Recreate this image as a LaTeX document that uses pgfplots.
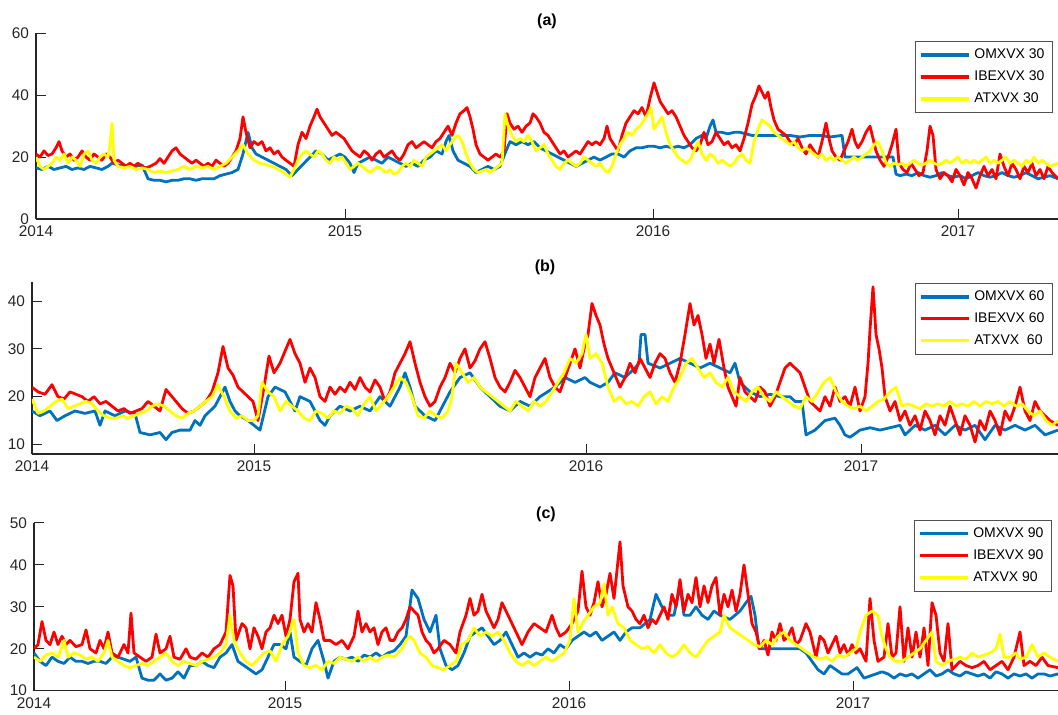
\documentclass[border=0pt]{standalone}
\usepackage{fontspec}
\setmainfont{Liberation Sans}
\usepackage{pgfplots}
\pgfplotsset{compat=1.18}
\definecolor{axgray}{rgb}{0.15,0.15,0.15}
\definecolor{mblue}{rgb}{0,0.447,0.741}
\definecolor{myel}{rgb}{1,1,0}
\definecolor{mred}{rgb}{1,0,0}
\pgfplotsset{
  panel/.style={
    scale only axis, clip=true,
    axis lines*=left,
    axis line style={-, draw=axgray, line width=0.6pt},
    tick align=inside,
    tick style={draw=axgray, line width=0.5pt},
    major tick length=5pt,
    ticklabel style={font=\fontsize{7.7}{9}\selectfont, text=axgray},
    /pgf/number format/assume math mode=true,
    every axis title/.style={at={(0.5,1)}, anchor=center, font=\bfseries\fontsize{8}{9}\selectfont},
    legend style={draw=axgray!80, line width=0.5pt, font=\fontsize{7}{8}\selectfont,
      anchor=north east, cells={anchor=west}, row sep=0.6pt, inner xsep=2pt, inner ysep=1.5pt},
    legend image code/.code={\draw[##1,line width=1.6pt] (0pt,0pt) -- (24pt,0pt);},
    every axis plot/.append style={line width=1.4pt, line join=round},
    xticklabels={2014,2015,2016,2017},
  },
  omx/.style={color=mblue},
  ibex/.style={color=mred},
  atx/.style={color=myel},
}
\begin{document}
\begin{tikzpicture}
\useasboundingbox (0,0) rectangle (529pt,357.5pt);
% ---------------- panel (a)
\begin{axis}[panel, at={(18pt,248pt)}, anchor=south west,
  width=511pt, height=92.85pt, xmin=36, xmax=1058, ymin=0, ymax=60,
  ytick={0,20,40,60}, xtick={36,345,653,958},
  title={(a)}, title style={at={(0.5,1.065)}},
  legend style={at={(0.995,0.958)}}]
\addplot[omx] coordinates {(36,16.5)(42,16)(48,17)(54,16)(60,16.5)(66,17)(72,16)(78,16.5)(84,16)(90,17)(96,16.5)(102,16)(108,17)(112,18)(118,17.5)(124,17)(130,17.5)(136,17)(142,17.5)(148,13)(154,12.5)(160,12.5)(166,12)(172,12.5)(178,12.5)(184,13)(190,13)(196,12.5)(202,13)(208,13)(214,13)(220,14)(226,14.5)(232,15)(238,16)(243,21)(248,28)(252,23)(256,21)(262,20)(268,19)(274,18)(280,17)(286,16)(292,14)(298,16)(304,18)(310,20)(316,22)(322,21)(328,19)(334,20)(340,21)(345,20)(350,18)(354,15)(358,18)(364,19)(370,20)(376,19)(382,18)(388,20)(394,19)(400,18)(406,17)(412,18)(418,17)(424,19)(430,20)(436,22)(442,21)(446,25)(449,27)(453,22)(458,19)(464,18)(470,17)(476,15)(482,16)(488,17)(494,16)(500,17)(506,22)(510,25)(516,24)(522,25)(528,24)(534,25)(540,23)(546,22)(552,21)(558,20)(564,19)(570,18)(576,17)(582,18)(588,19)(594,20)(600,19)(606,20)(612,21)(618,21)(624,20)(630,22)(636,23)(642,23)(648,23.5)(654,23.5)(660,23)(666,23.5)(672,23)(678,23.5)(684,23)(690,24)(696,26)(702,27)(706,26)(710,30)(713,32)(716,28)(722,28)(728,27.5)(734,28)(740,28)(746,27.5)(752,27)(760,27)(770,27)(780,27)(790,27)(800,26.5)(810,27)(820,27)(830,26.5)(842,27)(845,20)(855,20)(865,20)(875,20)(885,20)(893,20)(896,14.5)(900,14)(906,14.5)(912,14)(918,15)(924,14)(930,13.5)(936,14)(942,15)(948,14)(954,13.5)(960,14)(966,13)(972,14)(978,15)(984,14)(990,13.5)(996,14)(1002,15)(1008,14)(1014,13.5)(1020,14)(1026,15)(1032,14)(1038,13)(1044,13.5)(1050,14)(1058,13)};
\addlegendentry{OMXVX 30}
\addplot[ibex] coordinates {(36,21)(40,20)(44,22)(48,20.5)(52,21)(56,23)(59,25)(62,22)(66,20)(70,21)(74,19)(78,20)(82,22)(86,20)(90,19)(94,21)(98,20)(102,19)(106,21)(110,20)(114,18)(118,19)(122,18)(126,17)(130,18)(134,17)(138,18)(142,17)(146,16.5)(150,17)(156,18)(160,19.5)(164,18)(168,20)(172,22)(176,23)(180,21)(184,20)(188,19)(192,18)(196,19)(200,18)(204,17)(208,18)(212,17)(216,19)(220,18)(224,17)(228,18)(232,20)(236,22)(240,26)(243,33)(246,28)(250,23)(254,25)(258,24)(262,25)(266,22)(270,23)(274,21)(278,22)(282,20)(286,19)(290,18)(294,17)(298,24)(302,28)(306,26)(310,30)(314,33)(317,35.5)(320,33)(324,31)(328,29)(332,27)(336,28)(340,27)(344,26)(348,24)(352,22)(356,21)(360,20)(364,22)(368,21)(372,19)(376,21)(380,22)(384,20)(388,21)(392,22)(396,20)(400,19)(404,21)(408,24)(412,25)(416,23)(420,24)(424,25)(428,24)(432,23)(436,25)(440,26)(444,28)(448,30)(452,27)(456,31)(460,34)(464,35)(467,36)(470,33)(473,29)(476,24)(480,21)(484,20)(488,19)(492,20)(496,21)(500,20)(504,22)(507,34)(510,31)(514,29)(518,30)(522,28)(526,30)(530,31)(533,34)(536,33)(540,31)(544,28)(548,27)(552,25)(556,23)(560,21)(564,22)(568,20)(572,21)(576,22)(580,21)(584,23)(588,25)(592,24)(596,25)(600,24)(604,26)(607,30)(610,26)(614,24)(618,22)(622,27)(626,31)(630,33)(634,35)(638,34)(642,36)(646,33)(650,39)(654,44)(657,41)(660,38)(664,36)(668,34)(672,35)(676,33)(680,30)(684,27)(688,25)(692,23)(696,22)(700,24)(704,28)(708,24)(712,25)(716,28)(720,26)(724,24)(728,25)(732,23)(736,24)(740,22)(744,26)(748,31)(752,37)(756,40)(759,43)(762,41)(765,39)(768,41)(771,36)(774,32)(778,29)(782,28)(786,27)(790,25)(794,24)(798,26)(802,23)(806,21)(810,24)(814,22)(818,20)(822,25)(826,31)(829,26)(832,22)(836,20)(840,19)(844,22)(848,25)(852,29)(855,25)(858,23)(862,25)(866,28)(870,30)(873,26)(876,22)(880,19)(884,17)(888,20)(892,24)(896,29)(899,18)(903,16)(907,15)(911,18)(915,16)(919,14)(923,15)(927,22)(930,30)(933,27)(936,16)(940,13)(944,15)(948,14)(952,12)(956,16)(960,14)(964,11)(968,15)(972,13)(976,10)(980,14)(984,17)(988,14)(992,16)(996,13)(1000,21)(1004,17)(1008,14)(1012,18)(1016,16)(1020,13)(1024,17)(1028,15)(1032,18)(1036,14)(1040,16)(1044,13)(1048,17)(1052,15)(1058,13)};
\addlegendentry{IBEXVX 30}
\addplot[atx] coordinates {(36,20)(40,17)(44,16)(48,17)(52,18)(56,20)(60,19)(64,21)(68,18)(72,20)(76,19)(80,17)(84,21)(88,22)(92,19)(96,18)(100,20)(104,21)(108,20)(110,24)(112,31)(114,19)(118,17)(124,16.5)(130,17)(136,16)(142,16.5)(148,16)(154,15)(160,15.5)(166,15)(172,15.5)(178,16)(184,17)(190,16)(196,17)(202,16.5)(208,17)(214,16)(220,17)(226,18)(232,20)(238,22)(243,24)(248,21)(254,19)(260,18)(266,17.5)(272,17)(278,16)(284,15)(290,13.5)(294,16)(298,19)(302,21)(306,22)(310,21)(314,20)(318,22)(322,21)(326,19)(330,18)(334,20)(338,19)(342,20)(346,18)(350,16)(354,17)(358,18)(362,17)(366,16)(370,15)(374,16)(378,17)(382,16)(386,15)(390,16)(394,14.5)(398,15)(402,17)(406,18)(410,17)(414,19)(418,18)(422,17)(426,20)(430,21)(434,22)(438,23)(442,24)(446,22)(450,24)(454,26)(458,27)(462,25)(466,21)(470,18)(474,16)(478,15)(482,15.5)(486,16)(490,15)(494,16)(498,17)(502,18)(505,34)(508,30)(512,27)(516,25)(520,26)(524,25)(528,27)(532,25)(536,22)(540,23)(544,24)(548,21)(552,19)(556,17)(560,16)(564,18)(568,19)(572,18)(576,17)(580,18)(584,20)(588,19)(592,18)(596,17)(600,18)(604,16)(608,15)(612,17)(616,21)(620,24)(624,26)(628,28)(632,27)(636,29)(640,30)(644,32)(648,34)(651,36)(654,29)(658,31)(662,33)(666,28)(670,24)(674,22)(678,20)(682,19)(686,18)(690,19)(694,22)(698,25)(702,21)(706,19)(710,21)(714,20)(718,18)(722,19)(726,18)(730,17)(734,18)(738,20)(742,21)(746,19)(750,18)(754,25)(758,29)(762,32)(766,31)(770,30)(774,28)(778,27)(782,26)(786,25)(790,24)(794,25)(798,23)(802,22)(806,23)(810,22)(814,21)(818,20)(822,21)(826,19)(830,20)(834,19)(838,20)(842,19)(846,18)(850,19)(854,20)(858,19)(862,20)(866,21)(870,22)(874,24)(878,25)(882,22)(886,18)(890,17)(894,18)(898,17.5)(902,18)(906,17)(910,18)(914,19)(918,18)(922,17.5)(926,18)(930,19)(934,18)(938,17.5)(942,18)(946,19)(950,18)(954,19)(958,20)(962,18)(966,19)(970,18)(974,19)(978,18)(982,19)(986,20)(990,18)(994,19)(998,18)(1002,19)(1006,20)(1010,18)(1014,19)(1018,18)(1022,17)(1026,19)(1030,18)(1034,20)(1038,18)(1042,19)(1046,18)(1050,17)(1058,18)};
\addlegendentry{ATXVX 30}
\end{axis}
% ---------------- panel (b)
\begin{axis}[panel, at={(16pt,130.5pt)}, anchor=south west,
  width=513pt, height=86pt, xmin=32, xmax=1058, ymin=8, ymax=44,
  ytick={10,20,30,40}, xtick={32,254,586,861},
  title={(b)}, title style={at={(0.5,1.087)}},
  legend style={at={(0.995,0.994)}}]
\addplot[omx] coordinates {(32,17)(40,16)(50,17)(57,15)(65,16)(75,17)(85,16.5)(95,17)(100,14)(105,17)(115,16)(125,17)(135,16.5)(140,12.5)(150,12)(160,12.5)(166,11)(172,12.5)(180,13)(190,13)(195,15)(200,14)(205,16)(210,17)(215,18)(225,22)(230,19)(235,17)(240,16)(248,15)(254,14)(260,13)(268,20)(275,22)(285,21)(290,19)(295,17)(300,20)(310,19)(320,15)(325,14)(330,16)(340,18)(350,17)(360,18)(370,17)(380,20)(390,18)(400,22)(405,25)(410,22)(415,18)(425,16)(435,15)(440,17)(450,21)(460,24)(470,25)(480,22)(490,20)(500,18)(510,17)(520,19)(530,18)(540,20)(555,22)(565,24)(575,23)(585,24)(590,23)(600,22)(608,23)(615,25)(625,24)(635,26)(639,27)(641,33)(645,33)(648,27)(660,26)(670,27)(680,28)(690,27)(700,26)(710,27)(720,26)(730,25)(735,27)(740,23)(750,21)(760,20)(770,20.5)(780,20)(790,20)(795,19)(802,19)(806,12)(815,13)(825,15)(835,15.5)(840,14)(845,12)(850,11.5)(860,13)(870,13.5)(880,13)(890,13.5)(900,14)(905,12)(915,14)(925,13)(935,14)(945,12)(955,14)(965,13)(975,14)(985,11)(995,14)(1005,13)(1015,14)(1025,13)(1035,14)(1045,12)(1058,13)};
\addlegendentry{OMXVX 60}
\addplot[ibex] coordinates {(32,22)(38,21)(45,20.5)(52,22.5)(58,20)(64,19.5)(70,21)(76,20.5)(82,20)(88,19)(94,20)(100,18.5)(106,19)(112,18)(118,17)(124,17.5)(130,16.5)(136,17)(142,17.5)(148,19)(154,18)(160,17)(166,21.5)(170,20.5)(176,19)(182,17.5)(188,16.5)(194,17)(200,18)(206,19)(212,21)(218,25)(223,30.5)(228,26)(233,24.5)(238,22)(243,21)(248,20)(253,19)(258,15)(264,22)(269,28.5)(274,25)(280,27)(286,30)(290,32)(295,29)(300,27)(305,23)(310,26)(315,24)(320,20)(325,19)(330,22)(335,20.5)(340,22)(345,21)(350,23)(355,21.5)(360,24)(365,22)(370,21)(375,23.5)(380,22)(385,19)(390,21)(395,25)(400,27)(405,29)(410,31.5)(415,27)(420,23)(425,20)(430,18)(435,19)(440,22)(445,24)(450,27)(455,25)(460,28)(465,30)(470,26)(475,27.5)(480,30)(485,31.5)(490,28)(495,24)(500,22)(505,21)(510,23)(515,25.5)(520,24)(525,22)(530,20)(535,24)(540,26)(545,28)(550,24)(555,22)(560,21)(565,24)(570,27)(575,30)(580,26)(585,31)(588,33)(592,39.5)(596,37)(600,35)(604,31)(608,28)(612,26)(616,24)(620,22)(625,24)(630,27)(635,25)(640,28)(645,26)(650,24)(655,27)(660,29)(665,28)(670,25)(675,23)(680,27)(685,33)(690,39.5)(694,35)(698,37)(702,33)(706,28)(710,31)(714,27)(719,32)(724,26)(728,22)(732,20)(736,18)(740,24)(745,21)(750,20)(755,19)(760,22)(765,21)(770,18)(775,20)(780,23)(785,26)(790,27)(795,26)(800,25)(805,22)(810,19)(815,18)(820,17)(825,20)(830,18)(835,22)(840,19)(845,20)(850,18)(855,22)(860,17)(865,20)(868,27)(870,34)(873,43)(876,33)(879,30)(882,26)(885,20)(890,17)(895,19)(900,15)(905,17)(910,14)(915,16)(920,13)(925,17)(930,15)(935,12)(940,16)(945,14)(950,18)(955,15)(960,12)(965,16)(970,14)(975,10.5)(980,15)(985,13)(990,17)(995,15)(1000,12)(1005,17)(1010,15)(1015,18)(1020,22)(1025,17)(1030,15)(1035,19)(1040,17)(1045,16)(1050,15)(1058,14)};
\addlegendentry{IBEXVX 60}
\addplot[atx] coordinates {(32,19.5)(38,16.5)(44,17)(50,18)(56,19)(62,19.5)(68,17.5)(74,18)(80,18.5)(86,19)(92,18.5)(98,17)(104,16)(110,15.5)(116,15.5)(122,16)(128,15.5)(134,16)(140,16.5)(146,17)(152,18)(158,18.5)(164,18)(170,17)(176,16)(182,15.5)(188,16.5)(194,17)(200,18)(206,19)(212,20)(218,22.5)(224,20)(230,17)(236,15.5)(242,16)(248,15)(254,15)(258,16)(262,23)(268,21)(274,20)(280,17)(286,19)(292,18)(298,17)(304,15.5)(310,15)(316,17)(322,16.5)(328,15.5)(334,17)(340,16.5)(346,18)(352,17.5)(358,16)(364,18.5)(370,20)(376,17)(382,18.5)(388,20)(394,22)(400,24)(406,23)(412,20)(418,16)(424,15.5)(430,17)(436,16)(442,15.5)(448,17)(452,20)(456,27)(462,25)(468,23)(474,24)(480,22)(486,21)(492,20)(498,19)(504,18)(510,17)(516,19)(522,18)(528,17)(534,19)(540,18)(546,19)(552,21)(558,23)(564,25)(570,28)(576,27)(582,29)(586,33)(590,28)(596,29)(602,27)(608,22)(614,19)(620,20)(626,18.5)(632,19)(638,18)(644,20)(650,21)(656,18.5)(662,20)(668,19)(674,22)(680,24)(686,27)(692,28)(698,26)(704,24)(710,25)(716,23)(722,22)(728,24)(734,21)(740,20)(746,19)(752,21)(758,22)(764,20)(770,19)(776,21)(782,20)(788,19)(794,18)(800,17.5)(806,20)(812,19)(818,21)(824,23)(830,24)(836,21)(842,19)(848,18)(854,17.5)(860,18)(866,17)(872,18)(878,19)(884,19.5)(890,21)(896,22)(902,18)(908,18.5)(914,18)(920,17.5)(926,18.5)(932,18)(938,18.5)(944,18)(950,19)(956,18)(962,18.5)(968,18)(974,19)(980,18)(986,19)(992,18.5)(998,19)(1004,18)(1010,19)(1016,18)(1022,18.5)(1028,17)(1034,16)(1040,17)(1046,15)(1052,14)(1058,15)};
\addlegendentry{ATXVX\ \ 60}
\end{axis}
% ---------------- panel (c)
\begin{axis}[panel, at={(17pt,12.15pt)}, anchor=south west,
  width=512pt, height=83.85pt, xmin=34, xmax=1058, ymin=10, ymax=50,
  ytick={10,20,30,40,50}, xtick={34,285,569,853},
  title={(c)}, title style={at={(0.5,1.054)}},
  legend style={at={(0.994,1.018)}}]
\addplot[omx] coordinates {(34,19)(40,17)(46,16)(52,18)(58,17)(64,16.5)(70,18)(76,17)(82,17)(88,16.5)(94,17)(100,17)(106,16.5)(112,18)(118,18)(124,17.5)(130,17)(136,18)(142,13)(148,12.5)(154,12.5)(160,14)(166,12.5)(172,13)(178,14.5)(184,13)(190,16)(196,16)(202,17)(208,16)(214,15.5)(220,18)(226,19)(232,21)(238,17)(244,16)(250,15)(256,14)(262,15)(268,18)(274,21)(280,21)(286,20)(290,24)(294,18)(300,17)(306,16)(312,20)(318,22)(324,17)(328,13)(334,17)(340,18)(346,17.5)(352,18)(358,17)(364,18.5)(370,18)(376,19)(382,18)(388,19)(394,19.5)(400,21)(406,23)(412,34)(418,32)(424,27)(430,24)(436,28)(440,20)(446,16)(452,15)(458,16)(464,19)(470,23)(476,24)(482,25)(488,23)(494,21)(500,22)(506,24)(512,21)(518,18)(524,19)(530,18)(536,19)(542,18.5)(548,20)(554,19)(560,21)(566,20)(572,22)(578,23)(584,24)(590,23)(596,24)(602,22)(608,23)(614,24)(620,22)(626,24)(632,25)(640,25)(650,27)(656,33)(662,30)(668,28)(674,28)(680,35)(684,28)(690,28)(696,30)(702,28)(708,27)(714,29)(720,28)(730,27)(740,29)(746,31)(751,32.5)(755,28)(759,20)(770,20)(780,20)(790,20)(800,20)(806,19)(812,17)(818,15)(824,14)(830,16)(836,15)(842,14)(848,14)(857,15.5)(864,13)(870,13.5)(876,14)(882,14.5)(888,14)(894,13)(900,14)(906,13.5)(912,14)(918,13)(924,14)(930,15)(936,13.5)(942,14)(948,15)(954,14)(960,13.5)(966,14.5)(972,14)(978,13.5)(984,14)(990,13)(996,14.5)(1002,14)(1008,13)(1014,14)(1020,13.5)(1026,14)(1032,13)(1038,14)(1044,14)(1050,13.5)(1058,14)};
\addlegendentry{OMXVX 90}
\addplot[ibex] coordinates {(34,20)(38,21)(42,26.5)(46,22)(50,21)(54,24)(58,21)(62,23)(66,21)(70,22)(76,20.5)(82,21)(86,24.5)(90,20)(96,19)(100,22)(104,20)(108,24)(112,19)(118,18)(124,21)(128,19)(131,28.5)(134,19)(140,18)(146,17)(152,18)(156,23.5)(160,19)(166,20)(170,23)(174,18)(180,17.5)(186,20)(190,18)(196,17.5)(202,19)(208,18)(214,20)(220,21)(226,24)(230,37.5)(233,35)(236,22)(242,26)(246,25)(250,20)(254,25)(258,23)(262,20)(266,24)(270,25)(274,28)(278,26)(282,28)(286,23)(290,27)(294,36)(298,38)(300,27)(304,24)(308,26)(312,24)(316,31)(320,27)(324,22)(330,22)(336,21)(342,22)(348,20)(354,23)(358,29)(362,24)(366,26)(370,24)(374,25)(378,21)(382,24)(386,25)(390,22)(394,22)(398,24)(402,25)(406,27)(410,30)(414,29)(418,28)(422,24)(426,22)(430,21)(434,19)(438,20)(444,22)(450,21)(456,19)(460,24)(466,28)(470,32)(474,28)(478,29)(482,33)(486,29)(490,27)(494,25)(498,27)(502,31)(506,29)(510,27)(514,25)(518,23)(522,21)(528,24)(534,26)(540,25)(546,24)(552,28)(556,25)(560,23)(566,24)(572,26)(578,29)(582,38.5)(586,30)(590,28)(594,31)(598,36)(602,30)(606,33)(610,38)(614,32)(620,45.5)(623,35)(628,30)(632,29)(636,27)(640,26)(644,28)(648,25)(652,27)(656,26)(660,28)(664,30)(668,27)(672,33)(676,30)(680,36.5)(684,29)(688,33)(692,31)(696,37)(700,30)(704,35)(708,31)(712,35)(716,37)(720,28)(724,33)(728,30)(732,34)(736,29)(740,33)(744,40)(748,33)(752,26)(756,24)(760,20)(764,22)(768,18.5)(772,24)(776,22)(780,26)(784,22)(788,23)(792,25)(796,21)(800,22)(806,26)(810,24)(816,18)(820,23)(824,22)(828,19)(832,21)(836,23)(840,19)(844,21)(848,18.5)(852,21)(856,19)(860,20)(866,17)(870,32)(874,22)(878,17)(884,18)(888,26)(892,18)(896,19)(900,30)(904,17)(908,25)(912,18)(916,24)(920,18)(924,25)(928,16)(932,31)(936,28)(940,19)(944,17)(948,26)(952,15)(956,16)(960,17)(966,16)(972,15.5)(978,16)(984,17)(990,15)(996,16)(1002,17)(1008,15)(1014,18)(1020,24)(1024,16)(1030,17)(1036,16)(1042,18)(1048,16)(1058,15.5)};
\addlegendentry{IBEXVX 90}
\addplot[atx] coordinates {(34,18)(40,17)(46,18.5)(52,19)(58,18)(64,22)(68,18)(74,19)(80,18.5)(86,17.5)(92,18)(98,17)(104,19)(108,22)(112,18)(118,17)(124,16)(130,15.5)(136,16)(142,16.5)(148,16)(154,17)(160,18)(166,19)(172,17)(178,16)(184,17)(190,16.5)(196,16)(202,17)(208,17.5)(214,18)(220,19)(226,21)(230,28)(234,22)(240,19)(246,17)(252,16)(258,17.5)(264,19)(270,19.5)(276,17)(282,21)(288,23)(294,27)(298,19)(304,16)(310,15.5)(316,16)(322,15)(328,17)(334,16.5)(340,18)(346,17.5)(352,17)(358,18)(364,17)(370,18)(376,17)(382,18)(388,18.5)(394,18)(398,19)(402,20)(406,22)(410,23)(414,22)(420,19)(426,18)(432,16)(438,15.5)(444,15)(450,16)(456,17)(462,21)(468,22)(474,25)(480,23)(486,24)(492,23)(498,24)(504,22)(510,19)(516,17)(522,16)(528,17)(534,16)(540,17)(546,18)(552,17)(558,18)(564,19)(570,22)(574,32)(578,24)(582,26)(588,28)(594,30)(600,31)(604,35.5)(608,28)(612,30)(618,26)(624,25)(630,22)(636,21)(642,20)(648,20.5)(654,19)(660,21)(666,19)(672,18)(678,19)(684,21)(690,19)(696,18)(702,20)(708,22)(714,23)(720,24)(724,28)(730,25)(736,24)(742,23)(748,22)(754,21)(760,20.5)(766,22)(772,21)(778,23)(784,24)(790,22)(796,21)(802,20)(808,19)(814,18)(820,17.5)(826,18)(832,17)(838,18.5)(844,18)(850,19)(856,20)(860,24)(866,28)(872,29)(878,28)(882,23)(886,20)(890,18)(896,17)(902,17)(908,18)(914,19)(920,20)(926,22)(932,24)(936,17)(942,16)(948,17)(954,17.5)(960,18)(966,17.5)(972,19)(978,18)(984,18.5)(990,19)(996,20)(1000,23.5)(1004,18)(1010,18)(1016,19)(1020,17.5)(1026,18)(1032,21)(1038,18)(1044,19)(1050,18)(1058,17)};
\addlegendentry{ATXVX 90}
\end{axis}
\end{tikzpicture}
\end{document}
